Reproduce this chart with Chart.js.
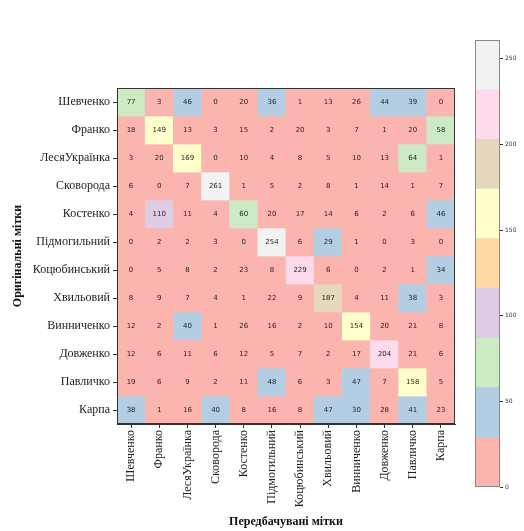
<!DOCTYPE html>
<html><head><meta charset="utf-8">
<script src="https://cdn.jsdelivr.net/npm/chart.js@4/dist/chart.umd.min.js"></script>
<style>html,body{margin:0;padding:0;background:#fff;} #wrap{position:relative;width:524px;height:531px;} canvas{position:absolute;top:0;}</style>
</head><body><div id="wrap"><canvas id="m" width="524" height="531" style="left:0"></canvas><canvas id="cb" width="64" height="531" style="left:460px"></canvas></div>
<script>
const labels = ['Шевченко','Франко','ЛесяУкраїнка','Сковорода','Костенко','Підмогильний','Коцюбинський','Хвильовий','Винниченко','Довженко','Павличко','Карпа'];
const rowShevchenko   = [77, 3, 46, 0, 20, 36, 1, 13, 26, 44, 39, 0];
const rowFranko       = [18, 149, 13, 3, 15, 2, 20, 3, 7, 1, 20, 58];
const rowLesya        = [3, 20, 169, 0, 10, 4, 8, 5, 10, 13, 64, 1];
const rowSkovoroda    = [6, 0, 7, 261, 1, 5, 2, 8, 1, 14, 1, 7];
const rowKostenko     = [4, 110, 11, 4, 60, 20, 17, 14, 6, 2, 6, 46];
const rowPidmohylny   = [0, 2, 2, 3, 0, 254, 6, 29, 1, 0, 3, 0];
const rowKotsiubynsky = [0, 5, 8, 2, 23, 8, 229, 6, 0, 2, 1, 34];
const rowKhvylovy     = [8, 9, 7, 4, 1, 22, 9, 187, 4, 11, 38, 3];
const rowVynnychenko  = [12, 2, 40, 1, 26, 16, 2, 10, 154, 20, 21, 8];
const rowDovzhenko    = [12, 6, 11, 6, 12, 5, 7, 2, 17, 204, 21, 6];
const rowPavlychko    = [19, 6, 9, 2, 11, 48, 6, 3, 47, 7, 158, 5];
const rowKarpa        = [38, 1, 16, 40, 8, 16, 8, 47, 30, 28, 41, 23];
const matrix = [rowShevchenko,rowFranko,rowLesya,rowSkovoroda,rowKostenko,rowPidmohylny,rowKotsiubynsky,rowKhvylovy,rowVynnychenko,rowDovzhenko,rowPavlychko,rowKarpa];
const colorbarTicks = [0, 50, 100, 150, 200, 250];
const pastel1 = ['#fbb4ae','#b3cde3','#ccebc5','#decbe4','#fed9a6','#ffffcc','#e5d8bd','#fddaec','#f2f2f2'];
const vmin = 0;
const vmax = Math.max(...matrix.flat());
function colorFor(v){ let k = Math.floor((v - vmin) / (vmax - vmin) * pastel1.length); return pastel1[Math.max(0, Math.min(pastel1.length - 1, k))]; }

const serif = 'Liberation Serif, Times New Roman, serif';
const datasets = matrix.map((row, i) => ({
  label: labels[i],
  data: row.map(() => [i - 0.5, i + 0.5]),
  values: row,
  backgroundColor: row.map(colorFor),
  borderWidth: 0,
  barPercentage: 1, categoryPercentage: 1, grouped: false
}));

const cellText = {
  id: 'cellText',
  afterDatasetsDraw(chart){
    const ctx = chart.ctx; ctx.save();
    ctx.font = '7px DejaVu Sans, sans-serif'; ctx.fillStyle = '#262626';
    ctx.textAlign = 'center'; ctx.textBaseline = 'middle';
    chart.data.datasets.forEach((ds, i) => {
      chart.getDatasetMeta(i).data.forEach((el, j) => {
        const p = el.getCenterPoint();
        ctx.fillText(String(ds.values[j]), p.x, p.y);
      });
    });
    ctx.restore();
  },
  afterDraw(chart){
    const a = chart.chartArea, ctx = chart.ctx; ctx.save();
    ctx.strokeStyle = '#333'; ctx.lineWidth = 1;
    ctx.strokeRect(Math.round(a.left)+0.5, Math.round(a.top)+0.5, Math.round(a.right-a.left)-1, Math.round(a.bottom-a.top)-1);
    ctx.restore();
  }
};

new Chart(document.getElementById('m'), {
  type: 'bar',
  data: { labels: labels, datasets: datasets },
  options: {
    responsive: false, animation: false,
    layout: { padding: { left: 0, top: 88, right: 69, bottom: 0 } },
    plugins: { legend: { display: false }, tooltip: { enabled: false } },
    scales: {
      x: {
        type: 'category', offset: true,
        grid: { display: true, drawOnChartArea: false, drawTicks: true, tickLength: 4, color: '#333', offset: false },
        border: { display: true, color: '#333' },
        ticks: { maxRotation: 90, minRotation: 90, autoSkip: false, padding: 2, color: '#222', font: { family: serif, size: 12 } },
        title: { display: true, text: 'Передбачувані мітки', color: '#111', padding: { top: 0, bottom: 2 }, font: { family: serif, size: 12, weight: 'bold' } },
        afterFit(s){ s.height = 107; }
      },
      y: {
        type: 'linear', min: -0.5, max: 11.5, reverse: true,
        afterBuildTicks(s){ s.ticks = labels.map((_, i) => ({ value: i })); },
        grid: { display: true, drawOnChartArea: false, drawTicks: true, tickLength: 4, color: '#333' },
        border: { display: true, color: '#333' },
        ticks: { autoSkip: false, padding: 3, color: '#222', font: { family: serif, size: 12 }, callback: (v) => labels[v] },
        title: { display: true, text: 'Оригінальні мітки', color: '#111', padding: { top: 11, bottom: 2 }, font: { family: serif, size: 12, weight: 'bold' } },
        afterFit(s){ s.width = 117; }
      }
    }
  },
  plugins: [cellText]
});

const nb = pastel1.length;
const cbSets = pastel1.map((c, k) => ({
  data: [[vmin + (vmax - vmin) * k / nb, vmin + (vmax - vmin) * (k + 1) / nb]],
  backgroundColor: c, borderWidth: 0, barPercentage: 1, categoryPercentage: 1, grouped: false
}));
const cbBorder = {
  id: 'cbBorder',
  afterDraw(chart){
    const a = chart.chartArea, ctx = chart.ctx; ctx.save();
    ctx.strokeStyle = '#888'; ctx.lineWidth = 1;
    ctx.strokeRect(Math.round(a.left)+0.5, Math.round(a.top)+0.5, Math.round(a.right-a.left)-1, Math.round(a.bottom-a.top)-1);
    ctx.restore();
  }
};
new Chart(document.getElementById('cb'), {
  type: 'bar',
  data: { labels: [''], datasets: cbSets },
  options: {
    responsive: false, animation: false,
    layout: { padding: { left: 15, top: 40, right: 0, bottom: 44 } },
    plugins: { legend: { display: false }, tooltip: { enabled: false } },
    scales: {
      x: { display: false },
      y: {
        position: 'right', min: vmin, max: vmax,
        afterBuildTicks(s){ s.ticks = colorbarTicks.map(v => ({ value: v })); },
        grid: { display: true, drawOnChartArea: false, drawTicks: true, tickLength: 3, color: '#333' },
        border: { display: false },
        ticks: { padding: 2, color: '#333', font: { family: 'DejaVu Sans, sans-serif', size: 6 } },
        afterFit(s){ s.width = 24; }
      }
    }
  },
  plugins: [cbBorder]
});
</script>
</body></html>
